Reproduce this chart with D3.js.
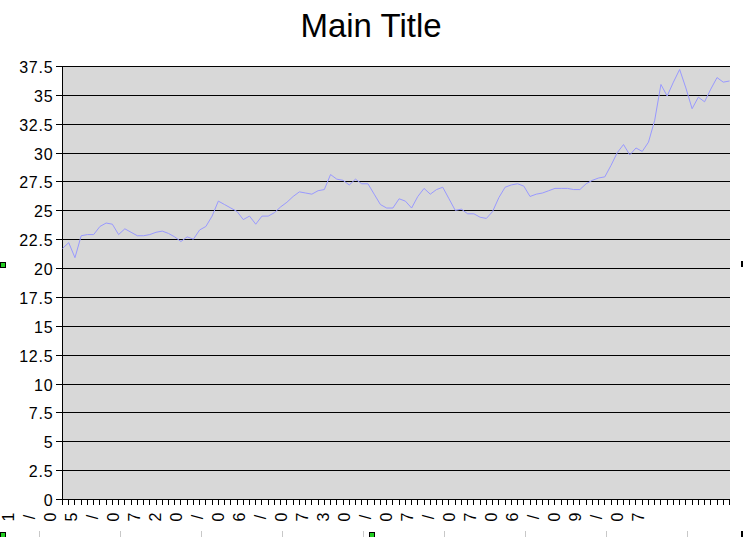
<!DOCTYPE html>
<html>
<head>
<meta charset="utf-8">
<script src="https://cdn.jsdelivr.net/npm/d3@7"></script>
<style>
  html, body { margin: 0; padding: 0; background: #ffffff; }
  svg { display: block; }
  text { font-family: "Liberation Sans", Arial, sans-serif; fill: #000; }
</style>
</head>
<body>
<svg id="chart" width="743" height="537"></svg>
<script>
// ---- data ----
const title = "Main Title";
const values = [
  21.7, 22.2, 20.9, 22.8, 22.9, 22.9, 23.6, 23.9, 23.8, 22.9, 23.4, 23.1, 22.8, 22.8, 22.9, 23.1,
  23.2, 23.0, 22.7, 22.3, 22.7, 22.5, 23.3, 23.6, 24.5, 25.8, 25.5, 25.2, 24.9, 24.2, 24.5,
  23.8, 24.5, 24.5, 24.8, 25.3, 25.7, 26.2, 26.6, 26.5, 26.4, 26.7, 26.8, 28.1, 27.7, 27.6, 27.2,
  27.7, 27.3, 27.3, 26.4, 25.5, 25.2, 25.2, 26.0, 25.8, 25.2, 26.2, 26.9, 26.4, 26.8, 27.0, 26.0,
  25.0, 25.1, 24.7, 24.7, 24.4, 24.3, 24.9, 26.1,
  27.0, 27.2, 27.3, 27.1, 26.2, 26.4, 26.5, 26.7, 26.9, 26.9, 26.9, 26.8, 26.8, 27.3, 27.6, 27.8,
  27.9, 28.9, 30.0, 30.7, 29.8, 30.4, 30.1, 30.9, 32.8, 35.9, 34.9, 36.1, 37.2, 35.6, 33.8, 34.8,
  34.4, 35.5, 36.5, 36.1, 36.2
];
const categories = values.map((d, i) => i);
const yTicks = [0, 2.5, 5, 7.5, 10, 12.5, 15, 17.5, 20, 22.5, 25, 27.5, 30, 32.5, 35, 37.5];
const xLabelText = "1/05/0720/06/0730/07/0706/09/07";
const xLabelChars = xLabelText.split("");

// ---- layout ----
const svg = d3.select("#chart");
const plot = { left: 62, right: 730, top: 66, bottom: 499 };

const x = d3.scalePoint().domain(categories).range([plot.left + 0.5, plot.right - 0.5]);
const y = d3.scaleLinear().domain([0, 37.5]).range([plot.bottom, plot.top]);
const xChar = d3.scalePoint().domain(d3.range(xLabelChars.length)).range([8.3, 638]);

// title
svg.append("text")
  .attr("x", 371).attr("y", 37)
  .attr("text-anchor", "middle")
  .style("font-size", "33px")
  .text(title);

// plot background
svg.append("rect")
  .attr("x", plot.left).attr("y", plot.top)
  .attr("width", plot.right - plot.left).attr("height", plot.bottom - plot.top)
  .attr("fill", "#d8d8d8");

// gridlines
svg.append("g").selectAll("line").data(yTicks).join("line")
  .attr("x1", plot.left - 6).attr("x2", plot.right)
  .attr("y1", d => Math.round(y(d)) + 0.5).attr("y2", d => Math.round(y(d)) + 0.5)
  .attr("stroke", "#000").attr("stroke-width", 1);

// y axis line
svg.append("line")
  .attr("x1", plot.left + 0.5).attr("x2", plot.left + 0.5)
  .attr("y1", plot.top).attr("y2", plot.bottom + 1)
  .attr("stroke", "#000");

// y labels
svg.append("g").selectAll("text").data(yTicks).join("text")
  .attr("x", 53.5)
  .attr("y", d => Math.round(y(d)) + 1.5)
  .attr("dy", "0.36em")
  .attr("text-anchor", "end")
  .style("font-size", "16px")
  .style("letter-spacing", "0.8px")
  .text(d => d);

// x axis ticks
svg.append("g").selectAll("line").data(categories).join("line")
  .attr("x1", d => Math.round(x(d) - 0.5) + 0.5).attr("x2", d => Math.round(x(d) - 0.5) + 0.5)
  .attr("y1", plot.bottom).attr("y2", plot.bottom + 6)
  .attr("stroke", "#000");

// x labels (rotated characters)
svg.append("g").selectAll("text").data(xLabelChars).join("text")
  .attr("transform", (d, i) => `translate(${xChar(i)},517) rotate(-90)`)
  .attr("text-anchor", "middle")
  .attr("dy", "0.36em")
  .style("font-size", "16px")
  .text(d => d);

// data line
const line = d3.line().x((d, i) => x(i)).y(d => y(d));
svg.append("path")
  .datum(values)
  .attr("d", line)
  .attr("fill", "none")
  .attr("stroke", "#9999ff")
  .attr("stroke-width", 1);

// selection handles / ruler decoration at edges
const rulerTicks = [39.5, 120.5, 201.5, 282.5, 363.5, 444.5, 525.5, 606.5, 687.5];
svg.append("g").selectAll("line").data(rulerTicks).join("line")
  .attr("x1", d => d).attr("x2", d => d)
  .attr("y1", 531).attr("y2", 537)
  .attr("stroke", "#c8c8c8");
const handles = [
  { x: 0, y: 262, c: "#22cc22" },
  { x: 0, y: 532, c: "#22cc22" },
  { x: 369, y: 532, c: "#22cc22" }
];
svg.append("g").selectAll("rect").data(handles).join("rect")
  .attr("x", d => d.x + 0.5).attr("y", d => d.y + 0.5)
  .attr("width", 5).attr("height", 5)
  .attr("fill", d => d.c).attr("stroke", "#000").attr("stroke-width", 1);
svg.append("rect").attr("x", 741).attr("y", 261).attr("width", 2).attr("height", 6).attr("fill", "#000");
svg.append("rect").attr("x", 741).attr("y", 531).attr("width", 2).attr("height", 6).attr("fill", "#000");
</script>
</body>
</html>
